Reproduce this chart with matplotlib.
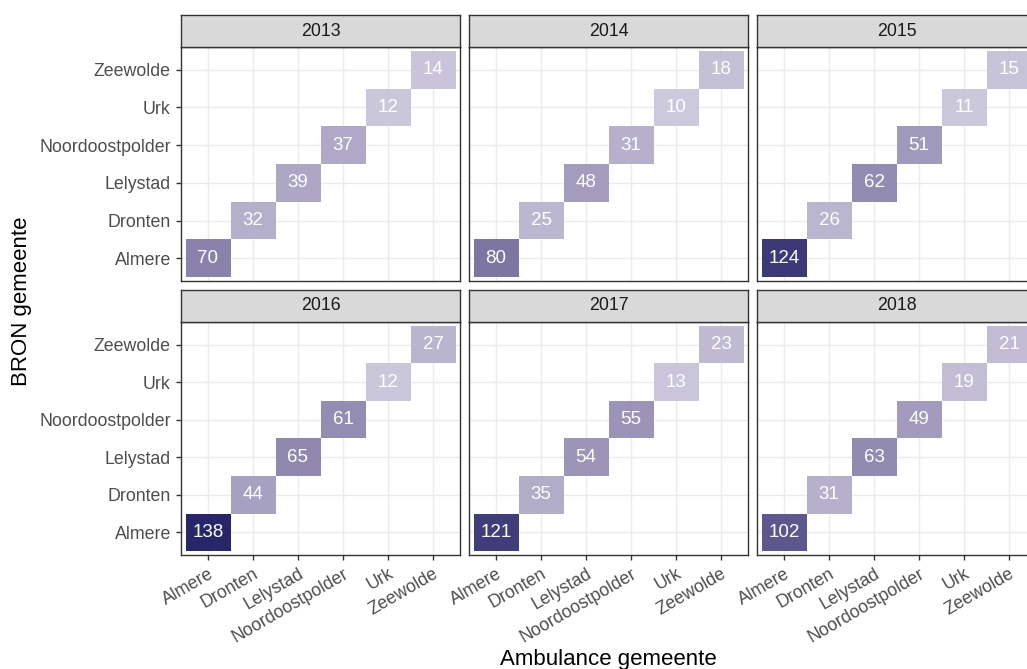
import numpy as np
import matplotlib
matplotlib.use("Agg")
import matplotlib.pyplot as plt
from matplotlib.colors import LinearSegmentedColormap, Normalize

plt.rcParams['font.family'] = ['Liberation Sans', 'DejaVu Sans']

gemeenten = ['Almere', 'Dronten', 'Lelystad', 'Noordoostpolder', 'Urk', 'Zeewolde']
years = [2013, 2014, 2015, 2016, 2017, 2018]

# ritten per gemeente (ambulance == bron)
counts_2013 = [70, 32, 39, 37, 12, 14]
counts_2014 = [80, 25, 48, 31, 10, 18]
counts_2015 = [124, 26, 62, 51, 11, 15]
counts_2016 = [138, 44, 65, 61, 12, 27]
counts_2017 = [121, 35, 54, 55, 13, 23]
counts_2018 = [102, 31, 63, 49, 19, 21]
counts = [counts_2013, counts_2014, counts_2015, counts_2016, counts_2017, counts_2018]

all_vals = [v for c in counts for v in c]
norm = Normalize(vmin=min(all_vals), vmax=max(all_vals))
cmap = LinearSegmentedColormap.from_list('paars', ['#cdc9dd', '#867ea8', '#27266b'])

W, H = 1027, 669
fig = plt.figure(figsize=(W / 100, H / 100), dpi=100)

col_x = [181, 469, 757]
panel_w = 279
rows = [(15, 47, 281), (290, 322, 555)]  # strip top, panel top, panel bottom
edge = '#333333'

for k, year in enumerate(years):
    r, c = divmod(k, 3)
    st, pt, pb = rows[r]
    x0 = col_x[c]

    ax = fig.add_axes([x0 / W, 1 - pb / H, panel_w / W, (pb - pt) / H])
    ax.set_xlim(-0.6, 5.6)
    ax.set_ylim(-0.6, 5.6)
    ax.set_axisbelow(True)
    ax.grid(True, color='#ebebeb', linewidth=1.0)
    for s in ax.spines.values():
        s.set_color(edge)
        s.set_linewidth(1.0)

    vals = counts[k]
    for i, v in enumerate(vals):
        ax.bar(i, 1.0, bottom=i - 0.5, width=1.0, color=cmap(norm(v)),
               edgecolor='none', linewidth=0)
        ax.text(i, i, str(v), ha='center', va='center', color='white',
                fontsize=13.5)

    ax.set_xticks(range(len(gemeenten)))
    ax.set_yticks(range(len(gemeenten)))
    ax.tick_params(length=3.8, width=1.0, color=edge, labelcolor='#4d4d4d',
                   labelsize=12.8)
    if c == 0:
        ax.set_yticklabels(gemeenten)
    else:
        ax.set_yticklabels([])
        ax.tick_params(axis='y', length=0)
    if r == 1:
        ax.set_xticklabels(gemeenten, rotation=30, ha='right',
                           rotation_mode='anchor')
    else:
        ax.set_xticklabels([])
        ax.tick_params(axis='x', length=0)

    sax = fig.add_axes([x0 / W, 1 - pt / H, panel_w / W, (pt - st) / H])
    sax.set_facecolor('#d9d9d9')
    sax.set_xticks([])
    sax.set_yticks([])
    for s in sax.spines.values():
        s.set_color(edge)
        s.set_linewidth(1.0)
    sax.text(0.5, 0.5, str(year), ha='center', va='center',
             transform=sax.transAxes, fontsize=12.8, color='#1a1a1a')

fig.text(608 / W, 1 - 659 / H, 'Ambulance gemeente', ha='center', va='center',
         fontsize=16, color='black')
fig.text(22 / W, 1 - 301 / H, 'BRON gemeente', ha='center', va='center',
         rotation=90, fontsize=16, color='black')

fig.savefig('out.png', dpi=100)
